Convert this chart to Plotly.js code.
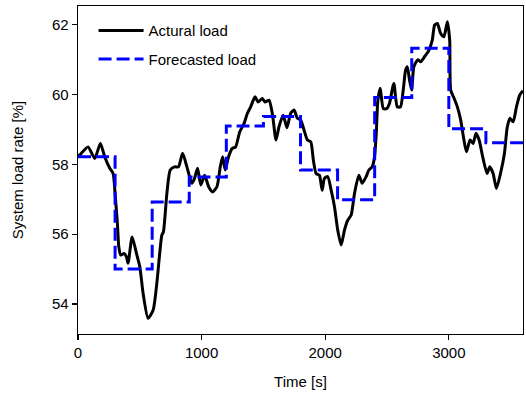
<!DOCTYPE html>
<html>
<head>
<meta charset="utf-8">
<script src="https://cdn.plot.ly/plotly-3.0.1.min.js"></script>
<style>html,body{margin:0;padding:0;background:#fff;}#chart{width:526px;height:398px;}</style>
</head>
<body>
<div id="chart"></div>
<script>
var actualTime = [0, 13, 81, 135, 181, 216, 257, 284, 302, 319, 330, 346, 373, 392, 405, 438, 473, 500, 527, 567, 608, 638, 678, 691, 719, 746, 781, 813, 846, 881, 921, 943, 967, 994, 1024, 1057, 1089, 1124, 1151, 1170, 1191, 1218, 1248, 1275, 1308, 1343, 1370, 1397, 1432, 1456, 1491, 1513, 1545, 1572, 1602, 1626, 1660, 1690, 1720, 1748, 1775, 1802, 1829, 1856, 1883, 1904, 1926, 1953, 1975, 1994, 2020, 2048, 2075, 2101, 2129, 2156, 2182, 2210, 2237, 2272, 2299, 2331, 2353, 2380, 2399, 2413, 2426, 2445, 2470, 2499, 2520, 2555, 2583, 2609, 2631, 2650, 2664, 2682, 2699, 2717, 2750, 2772, 2812, 2839, 2866, 2885, 2907, 2934, 2960, 2988, 3007, 3015, 3042, 3069, 3096, 3118, 3142, 3172, 3196, 3220, 3245, 3275, 3309, 3331, 3358, 3385, 3418, 3450, 3471, 3493, 3520, 3547, 3574, 3600];
var actualLoad = [58.25, 58.27, 58.5, 58.17, 58.6, 58.22, 57.89, 57.74, 57.07, 56.3, 55.64, 55.4, 55.45, 55.35, 55.17, 55.92, 55.45, 55.07, 54.3, 53.59, 53.83, 54.6, 55.97, 56.07, 57.17, 57.84, 57.93, 57.93, 58.32, 57.93, 57.46, 57.6, 57.89, 57.41, 57.69, 57.36, 57.21, 57.36, 57.93, 58.22, 57.84, 58.22, 58.46, 58.5, 58.93, 59.17, 59.46, 59.65, 59.94, 59.79, 59.89, 59.79, 59.84, 59.46, 58.7, 59.08, 59.41, 59.05, 59.46, 59.56, 59.32, 59.27, 58.98, 58.7, 58.65, 58.12, 57.74, 57.69, 57.26, 57.6, 57.65, 57.26, 56.79, 56.12, 55.69, 56.12, 56.4, 56.55, 57.17, 57.69, 57.46, 57.65, 57.84, 57.93, 58.22, 58.89, 59.84, 60.18, 59.6, 59.6, 59.75, 60.32, 59.65, 59.65, 60.13, 60.7, 60.8, 60.42, 60.13, 60.8, 61.0, 60.94, 61.13, 61.27, 61.56, 61.99, 62.04, 61.75, 61.66, 62.09, 61.56, 60.13, 59.9, 59.65, 59.27, 58.79, 58.36, 58.7, 58.6, 58.89, 58.7, 58.2, 57.74, 57.93, 57.74, 57.31, 57.74, 58.32, 59.03, 59.32, 59.22, 59.65, 59.99, 60.11];

var forecastTime = [0, 300, 600, 900, 1200, 1500, 1800, 2100, 2400, 2700, 3000, 3300, 3600];
var forecastLoad = [58.22, 55.0, 56.92, 57.64, 59.1, 59.37, 57.84, 56.99, 59.92, 61.33, 59.02, 58.62, 58.62];

var xTicks = [0, 1000, 2000, 3000];
var yTicks = [54, 56, 58, 60, 62];

var fontFam = 'Liberation Sans, Arial, sans-serif';

var traces = [
  {
    x: actualTime, y: actualLoad, type: 'scatter', mode: 'lines',
    name: 'Actural load', legendgroup: 'a',
    line: {color: '#000000', width: 3, shape: 'spline', smoothing: 0.6}
  },
  {
    x: forecastTime, y: forecastLoad, type: 'scatter', mode: 'lines',
    name: 'Forecasted load', legendgroup: 'f',
    line: {color: '#0000ff', width: 3, shape: 'hv', dash: '13px,5px'}
  }
];

var layout = {
  width: 526, height: 398,
  margin: {l: 78, r: 3, t: 6, b: 64},
  paper_bgcolor: '#ffffff', plot_bgcolor: '#ffffff',
  font: {family: fontFam, size: 15, color: '#000000'},
  showlegend: true,
  legend: {x: 0.035, y: 0.975, xanchor: 'left', yanchor: 'top', bgcolor: 'rgba(0,0,0,0)', borderwidth: 0,
           itemwidth: 45, traceorder: 'grouped', tracegroupgap: 6,
           font: {family: fontFam, size: 15, color: '#000'}},
  xaxis: {
    range: [0, 3600], tickvals: xTicks, ticktext: xTicks.map(String),
    showgrid: false, zeroline: false, showline: true, mirror: true, linecolor: '#000', linewidth: 1.3,
    ticks: 'outside', ticklen: 5, tickwidth: 1.2, tickcolor: '#000',
    tickfont: {family: fontFam, size: 15, color: '#000'},
    title: {text: 'Time [s]', font: {family: fontFam, size: 15, color: '#000'}, standoff: 16}
  },
  yaxis: {
    range: [53.14, 62.54], tickvals: yTicks, ticktext: yTicks.map(String),
    showgrid: false, zeroline: false, showline: true, mirror: true, linecolor: '#000', linewidth: 1.3,
    ticks: 'outside', ticklen: 5, tickwidth: 1.2, tickcolor: '#000',
    tickfont: {family: fontFam, size: 15, color: '#000'},
    title: {text: 'System load rate [%]', font: {family: fontFam, size: 15, color: '#000'}, standoff: 24}
  }
};

Plotly.newPlot('chart', traces, layout, {displayModeBar: false, staticPlot: true});
</script>
</body>
</html>
